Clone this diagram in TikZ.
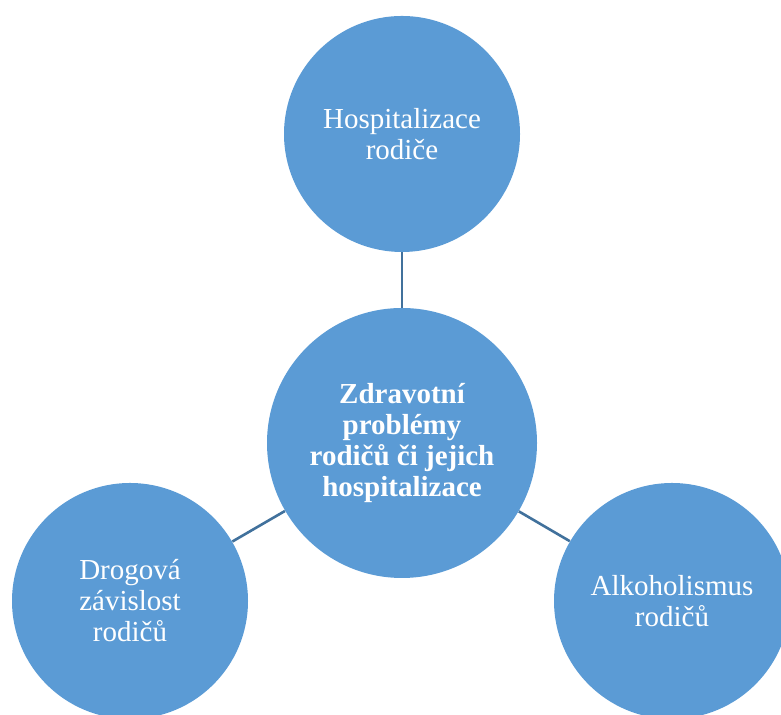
\documentclass[tikz,border=0pt]{standalone}
\usepackage{fontspec}
\setmainfont{Liberation Serif}
\usetikzlibrary{positioning}
\definecolor{circblue}{RGB}{91,155,213}
\definecolor{linkblue}{RGB}{65,113,156}
\tikzset{
    leaf/.style={circle, fill=circblue, text=white, align=center, inner sep=0pt, minimum size=118pt, font=\fontsize{14.5pt}{15.5pt}\selectfont},
    hubnode/.style={leaf, minimum size=135pt, font=\fontsize{14.5pt}{15.5pt}\selectfont\bfseries},
    link/.style={draw=linkblue, line width=1.3pt}
}
\begin{document}
\begin{tikzpicture}[x=0.5pt, y=0.5pt, on grid]
    \useasboundingbox (0,0) rectangle (781,715);
    \clip (0,0) rectangle (781,715);
    % Centre
    \node (hub) [hubnode] at (402,272) {Zdravotní\\problémy\\rodičů či jejich\\hospitalizace};
    % Surrounding circles
    \node (hosp) [leaf, above=154.5pt of hub] {Hospitalizace\\rodiče};
    \node (drug) [leaf, below left=79pt and 136pt of hub] {Drogová\\závislost\\rodičů};
    \node (alco) [leaf, below right=79pt and 135pt of hub] {Alkoholismus\\rodičů};
    % Links
    \draw [link] (hub) -- (hosp);
    \draw [link] (hub) -- (drug);
    \draw [link] (hub) -- (alco);
\end{tikzpicture}
\end{document}
